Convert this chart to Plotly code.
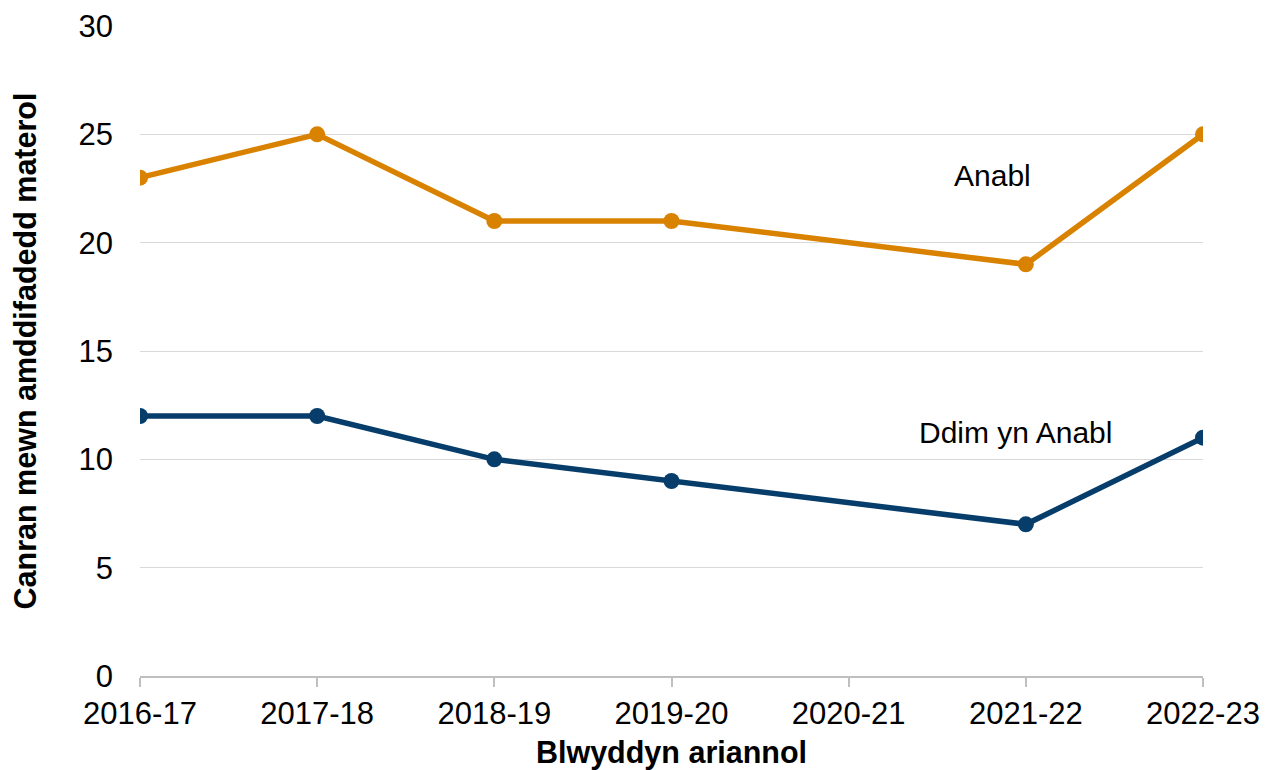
import plotly.graph_objects as go

# Blwyddyn ariannol / canran mewn amddifadedd materol
years = ["2016-17", "2017-18", "2018-19", "2019-20", "2020-21", "2021-22", "2022-23"]
anabl = [23, 25, 21, 21, None, 19, 25]
ddim_anabl = [12, 12, 10, 9, None, 7, 11]

orange = "#D98200"
blue = "#063D6A"
font = "Liberation Sans, Arial, sans-serif"

fig = go.Figure()
fig.add_trace(go.Scatter(x=years, y=anabl, name="Anabl", mode="lines+markers",
                         connectgaps=True, line=dict(color=orange, width=5.5),
                         marker=dict(size=16, color=orange)))
fig.add_trace(go.Scatter(x=years, y=ddim_anabl, name="Ddim yn Anabl", mode="lines+markers",
                         connectgaps=True, line=dict(color=blue, width=5.5),
                         marker=dict(size=16, color=blue)))

# labeli ar y llinellau
fig.add_annotation(x=4.81, y=23.1, text="Anabl", showarrow=False,
                   font=dict(size=30, color="black", family=font))
fig.add_annotation(x=4.94, y=11.25, text="Ddim yn Anabl", showarrow=False,
                   font=dict(size=30, color="black", family=font))

# mae gan y dudalen ymyl 8px, felly mae'r ffigur ychydig yn llai
fig.update_layout(
    width=1263, height=762,
    margin=dict(l=132, r=68, t=18, b=94),
    plot_bgcolor="white", paper_bgcolor="white",
    showlegend=False,
    font=dict(family=font, size=31, color="black"),
)
fig.update_xaxes(
    type="category", range=[0, 6], automargin=False,
    showline=True, linecolor="#BFBFBF", linewidth=1.5,
    ticks="outside", ticklen=9, tickcolor="#BFBFBF", tickwidth=1.5,
    showgrid=False,
    title=dict(text="<b>Blwyddyn ariannol</b>", standoff=19, font=dict(size=30.5)),
)
fig.update_yaxes(
    range=[0, 30], dtick=5, automargin="left",
    showgrid=True, gridcolor="#D9D9D9", gridwidth=1.2,
    zeroline=False, showline=False, ticks="",
    ticklabelstandoff=26,
    title=dict(text="<b>Canran mewn amddifadedd materol</b>", standoff=34, font=dict(size=30.5)),
)

fig.write_html("out.html")
